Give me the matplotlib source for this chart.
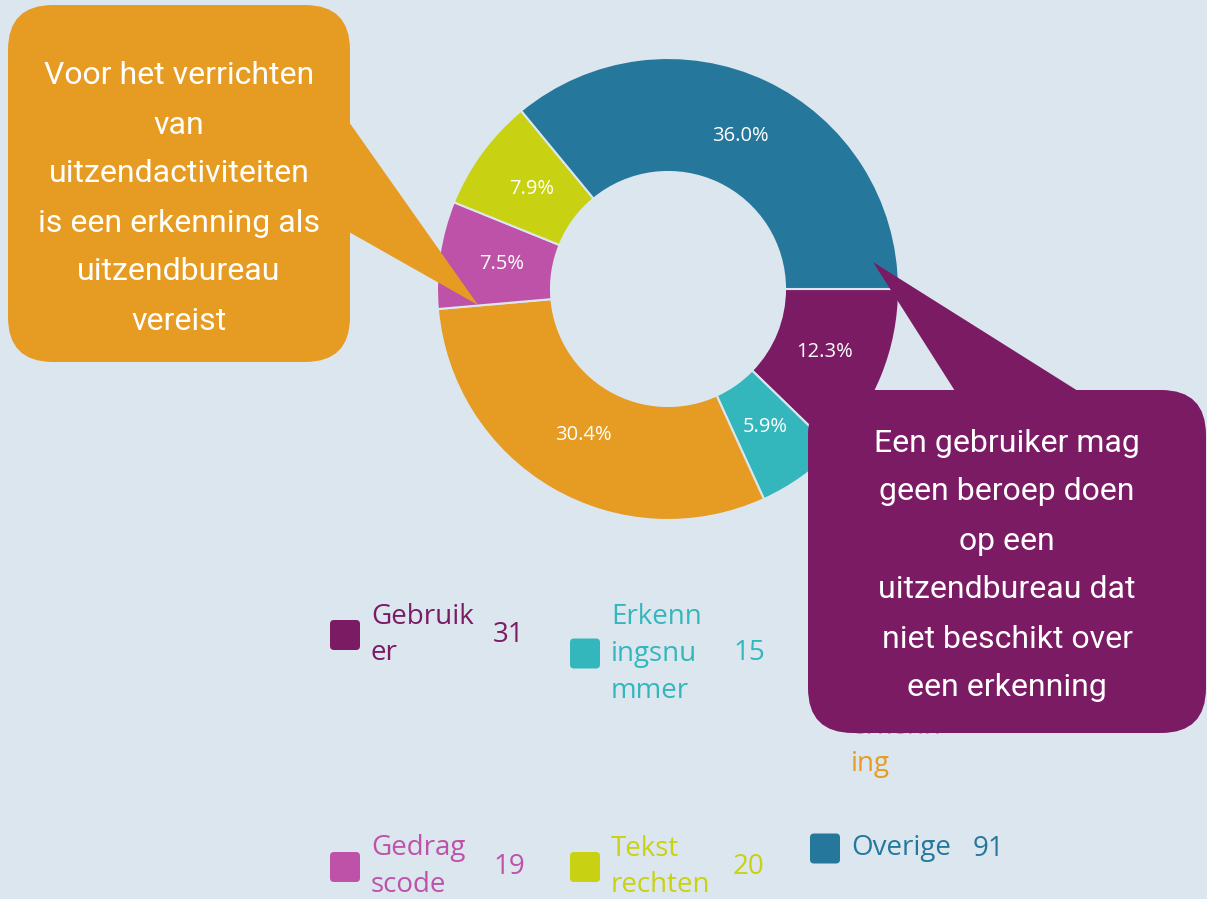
"""
Donut: soorten meldingen uitzendarbeid, met twee tekstballonnen
"""
import matplotlib.pyplot as plt
from matplotlib.patches import FancyBboxPatch, Polygon

# data
categories = ['Gebruiker', 'Erkenningsnummer', 'Uitzendbureau zonder erkenning',
              'Gedragscode', 'Tekstrechten', 'Overige']
legend_lines = [['Gebruik', 'er'], ['Erkenn', 'ingsnu', 'mmer'],
                ['Uitzend', 'bureau', 'zonder', 'erkenn', 'ing'],
                ['Gedrag', 'scode'], ['Tekst', 'rechten'], ['Overige']]
counts = [31, 15, 77, 19, 20, 91]
colors = ['#7b1b63', '#33b7bc', '#e69b22', '#be52a8', '#c8d212', '#25779c']

note_left = ['Voor het verrichten', 'van', 'uitzendactiviteiten',
             'is een erkenning als', 'uitzendbureau', 'vereist']
note_right = ['Een gebruiker mag', 'geen beroep doen', 'op een',
              'uitzendbureau dat', 'niet beschikt over', 'een erkenning']

bg = '#dce6ef'

fig = plt.figure(figsize=(12.07, 8.99), dpi=100)
fig.patch.set_facecolor(bg)
ax = fig.add_axes([0, 0, 1, 1])
ax.set_facecolor(bg)

# donut (axis units = pixels, y goes down)
wedges, texts, autotexts = ax.pie(
    counts, colors=colors, center=(668, 289), radius=231,
    startangle=0, counterclock=True,
    autopct='%.1f%%', pctdistance=0.73,
    wedgeprops=dict(width=114, edgecolor=bg, linewidth=1.5),
    textprops=dict(color='white', fontsize=14.5, family='Open Sans'))

ax.set_xlim(0, 1207)
ax.set_ylim(899, 0)
ax.set_aspect('equal')
ax.axis('off')

# legend, 3 columns
col_x = [330, 570, 810]
row_top = [598, 830]
lh = 37
for i, (lines, n, c) in enumerate(zip(legend_lines, counts, colors)):
    x = col_x[i % 3]
    top = row_top[i // 3]
    cy = top + len(lines) * lh / 2
    ax.add_patch(FancyBboxPatch((x, cy - 15), 30, 30,
                                boxstyle='round,pad=0,rounding_size=4',
                                fc=c, ec='none', zorder=3))
    for k, line in enumerate(lines):
        ax.text(x + 41, top + lh / 2 + k * lh, line, color=c, fontsize=20,
                family='Open Sans', ha='left', va='center', zorder=3)
    ax.text(x + 163, cy, str(n), color=c, fontsize=20, family='Open Sans',
            ha='left', va='center', zorder=3)

# orange callout
ax.add_patch(FancyBboxPatch((8, 5), 342, 357,
                            boxstyle='round,pad=0,rounding_size=45',
                            fc=colors[2], ec='none', zorder=5))
ax.add_patch(Polygon([(349, 122), (478, 305), (349, 232)],
                     closed=True, fc=colors[2], ec='none', zorder=5))
for k, line in enumerate(note_left):
    ax.text(179, 76 + k * 49, line, color='white', fontsize=23,
            family='Roboto', ha='center', va='center', zorder=6)

# purple callout
ax.add_patch(FancyBboxPatch((808, 390), 398, 343,
                            boxstyle='round,pad=0,rounding_size=45',
                            fc=colors[0], ec='none', zorder=5))
ax.add_patch(Polygon([(955, 391), (873, 262), (1078, 391)],
                     closed=True, fc=colors[0], ec='none', zorder=5))
for k, line in enumerate(note_right):
    ax.text(1007, 443 + k * 49, line, color='white', fontsize=23,
            family='Roboto', ha='center', va='center', zorder=6)

plt.savefig('out.png', dpi=100, facecolor=bg)
